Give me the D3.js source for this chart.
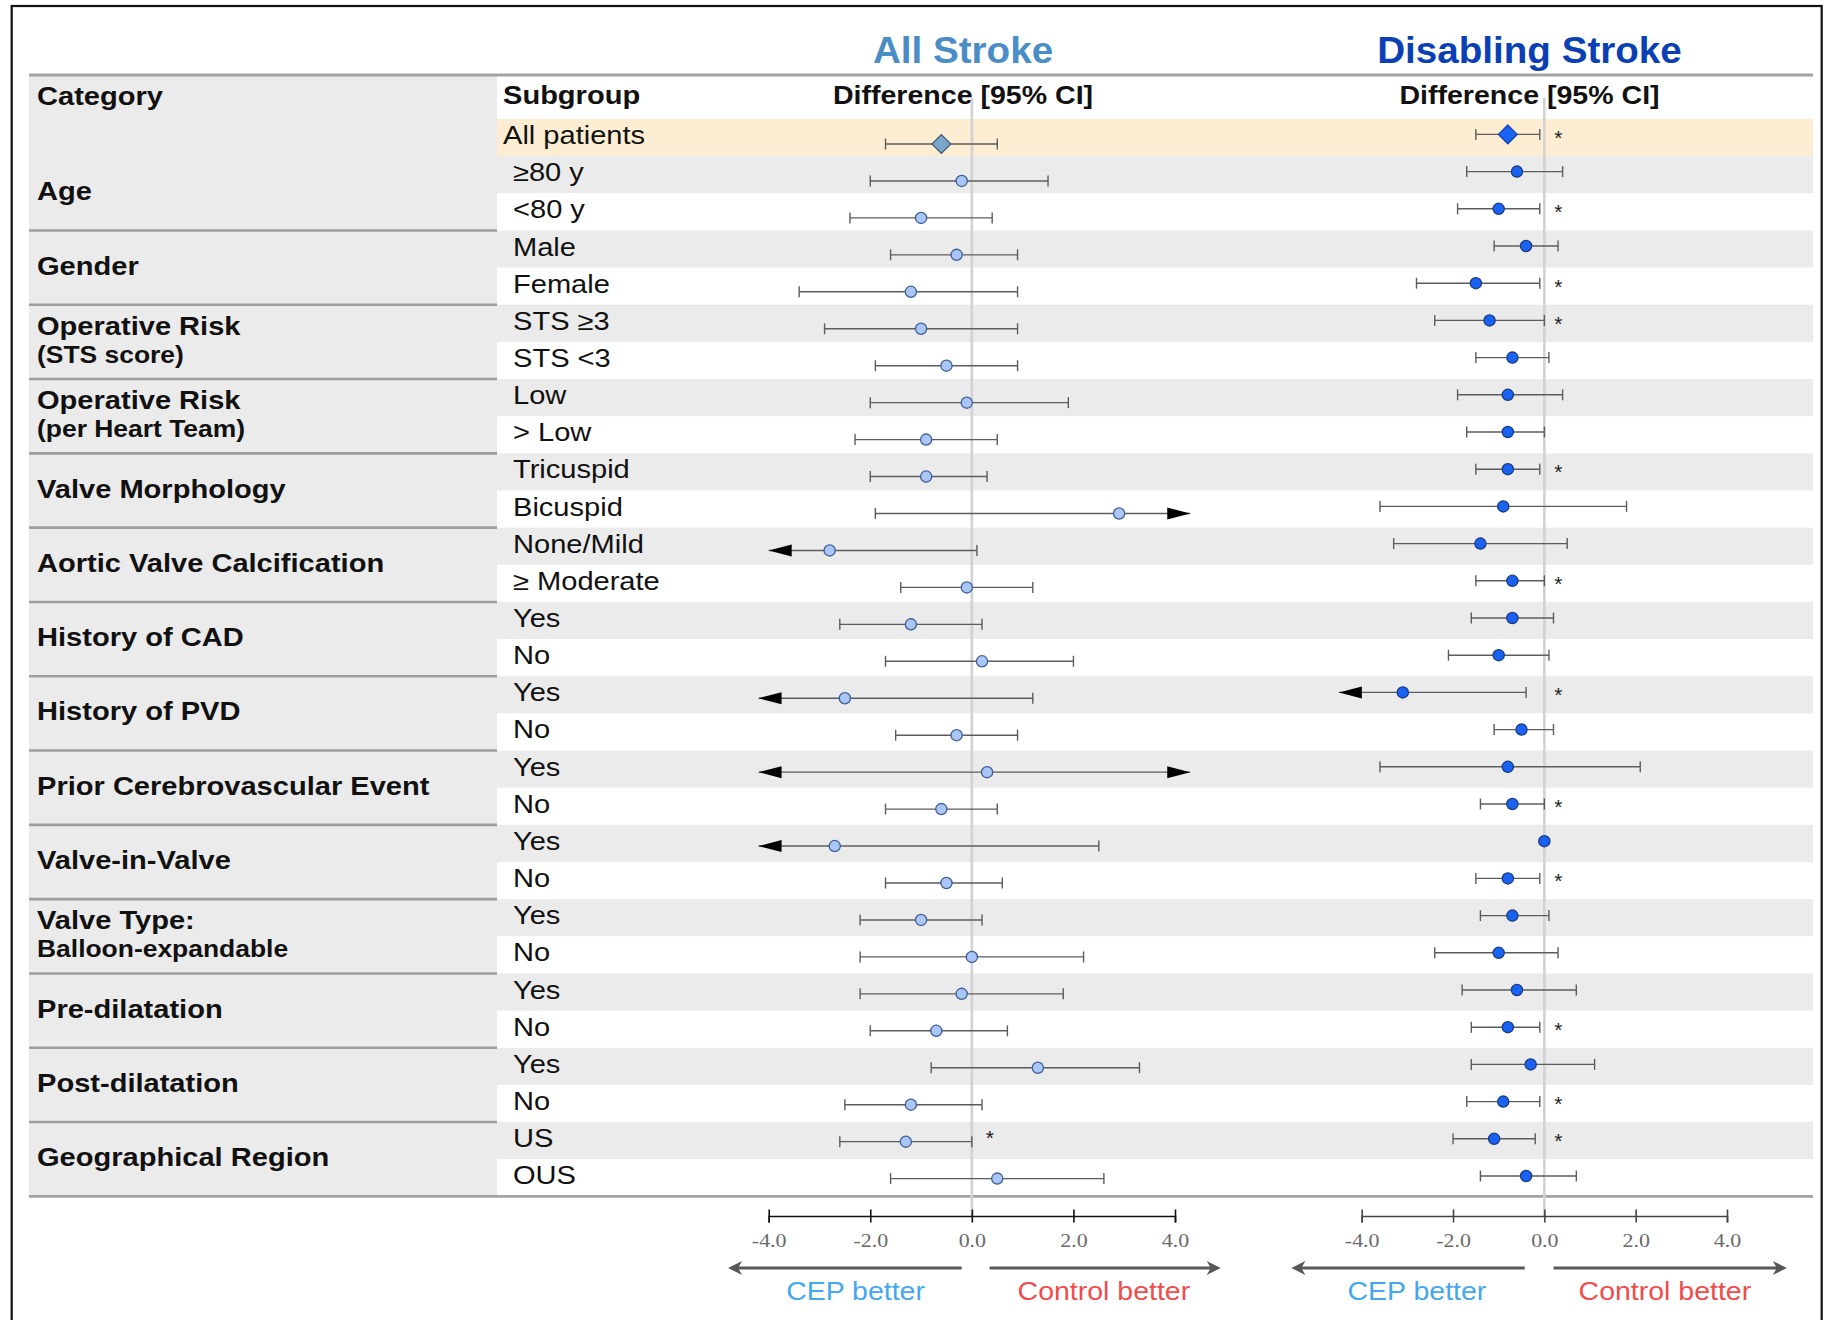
<!DOCTYPE html>
<html>
<head>
<meta charset="utf-8">
<script src="https://cdn.jsdelivr.net/npm/d3@7"></script>
<style>
  body { margin: 0; background: #fff; }
  svg { display: block; }
</style>
</head>
<body>
<svg id="chart" width="1834" height="1320"></svg>
<script>
// ---- Data -------------------------------------------------------------
const subgroups = ["All patients", "≥80 y", "<80 y", "Male", "Female", "STS ≥3", "STS <3",
  "Low", "> Low", "Tricuspid", "Bicuspid", "None/Mild", "≥ Moderate", "Yes", "No", "Yes", "No",
  "Yes", "No", "Yes", "No", "Yes", "No", "Yes", "No", "Yes", "No", "US", "OUS"];

const categoryLabels = [["Age"], ["Gender"], ["Operative Risk", "(STS score)"],
  ["Operative Risk", "(per Heart Team)"], ["Valve Morphology"], ["Aortic Valve Calcification"],
  ["History of CAD"], ["History of PVD"], ["Prior Cerebrovascular Event"], ["Valve-in-Valve"],
  ["Valve Type:", "Balloon-expandable"], ["Pre-dilatation"], ["Post-dilatation"], ["Geographical Region"]];
const categoryFirstRow = [1, 3, 5, 7, 9, 11, 13, 15, 17, 19, 21, 23, 25, 27];
const categoryRowCount = [2, 2, 2, 2, 2, 2, 2, 2, 2, 2, 2, 2, 2, 2];

// All stroke: difference and 95% CI (values past the axis end are drawn as arrows)
const allMean = [-0.6, -0.2, -1.0, -0.3, -1.2, -1.0, -0.5, -0.1, -0.9, -0.9, 2.9, -2.8, -0.1, -1.2, 0.2,
  -2.5, -0.3, 0.3, -0.6, -2.7, -0.5, -1.0, 0.0, -0.2, -0.7, 1.3, -1.2, -1.3, 0.5];
const allLo = [-1.7, -2.0, -2.4, -1.6, -3.4, -2.9, -1.9, -2.0, -2.3, -2.0, -1.9, -4.0, -1.4, -2.6, -1.7,
  -4.2, -1.5, -4.2, -1.7, -4.2, -1.7, -2.2, -2.2, -2.2, -2.0, -0.8, -2.5, -2.6, -1.6];
const allHi = [0.5, 1.5, 0.4, 0.9, 0.9, 0.9, 0.9, 1.9, 0.5, 0.3, 4.3, 0.1, 1.2, 0.2, 2.0,
  1.2, 0.9, 4.3, 0.5, 2.5, 0.6, 0.2, 2.2, 1.8, 0.7, 3.3, 0.2, 0.0, 2.6];
const allSig = [0, 0, 0, 0, 0, 0, 0, 0, 0, 0, 0, 0, 0, 0, 0, 0, 0, 0, 0, 0, 0, 0, 0, 0, 0, 0, 0, 1, 0];

// Disabling stroke: difference and 95% CI
const disMean = [-0.8, -0.6, -1.0, -0.4, -1.5, -1.2, -0.7, -0.8, -0.8, -0.8, -0.9, -1.4, -0.7, -0.7, -1.0,
  -3.1, -0.5, -0.8, -0.7, 0.0, -0.8, -0.7, -1.0, -0.6, -0.8, -0.3, -0.9, -1.1, -0.4];
const disLo = [-1.5, -1.7, -1.9, -1.1, -2.8, -2.4, -1.5, -1.9, -1.7, -1.5, -3.6, -3.3, -1.5, -1.6, -2.1,
  -4.5, -1.1, -3.6, -1.4, null, -1.5, -1.4, -2.4, -1.8, -1.6, -1.6, -1.7, -2.0, -1.4];
const disHi = [-0.1, 0.4, -0.1, 0.3, -0.1, 0.0, 0.1, 0.4, 0.0, -0.1, 1.8, 0.5, 0.0, 0.2, 0.1,
  -0.4, 0.2, 2.1, 0.0, null, -0.1, 0.1, 0.3, 0.7, -0.1, 1.1, -0.1, -0.2, 0.7];
const disSig = [1, 0, 1, 0, 1, 1, 0, 0, 0, 1, 0, 0, 1, 0, 0, 1, 0, 0, 1, 0, 1, 0, 0, 0, 1, 0, 1, 1, 0];

const tickValues = [-4, -2, 0, 2, 4];
const panelTitles = ["All Stroke", "Disabling Stroke"];
const directionLabels = ["CEP better", "Control better"];

// ---- Layout -------------------------------------------------------------
const svg = d3.select("#chart");
const nRows = subgroups.length;
const rowTop = 119, rowH = 37.15;
const tableBottom = rowTop + rowH * nRows;
const catX0 = 29, catX1 = 497, tableX1 = 1813;
const axisY = 1216;
const SX = 1.14; // horizontal stretch of the lettering
const rowCenter = i => rowTop + rowH * (i + 0.5);

const xAll = d3.scaleLinear().domain([-4, 4]).range([768.7, 1175]);
const xDis = d3.scaleLinear().domain([-4, 4]).range([1361.7, 1727]);
const idx = d3.range(nRows);
const yAll = d3.scalePoint().domain(idx).range([144, 1178.6]);
const yDis = d3.scalePoint().domain(idx).range([134.4, 1176]);

function label(g, x, y, str, o = {}) {
  return g.append("text")
    .attr("transform", `translate(${x},${y}) scale(${o.sx ?? SX},1)`)
    .attr("text-anchor", o.anchor || "start")
    .attr("font-family", o.family || "'Liberation Sans', Arial, sans-serif")
    .attr("font-size", o.size || 25.5)
    .attr("font-weight", o.weight || "normal")
    .attr("fill", o.fill || "#111")
    .text(str);
}

// ---- Table background ------------------------------------------------------
const bg = svg.append("g");
bg.append("rect").attr("x", catX0).attr("y", 75).attr("width", catX1 - catX0)
  .attr("height", tableBottom - 75).attr("fill", "#ebebeb");
bg.selectAll("rect.band").data(idx).join("rect")
  .attr("class", "band")
  .attr("x", catX1).attr("y", i => rowTop + rowH * i)
  .attr("width", tableX1 - catX1).attr("height", rowH + 0.3)
  .attr("fill", i => i === 0 ? "#fdeed3" : (i % 2 === 1 ? "#ebebeb" : "#ffffff"));

// group separators in the category column
bg.selectAll("line.sep").data(categoryFirstRow.slice(1)).join("line")
  .attr("class", "sep")
  .attr("x1", catX0).attr("x2", catX1)
  .attr("y1", r => rowTop + rowH * r).attr("y2", r => rowTop + rowH * r)
  .attr("stroke", "#9e9e9e").attr("stroke-width", 2.6);
bg.append("line").attr("x1", catX0).attr("x2", tableX1).attr("y1", 75).attr("y2", 75)
  .attr("stroke", "#a3a3a3").attr("stroke-width", 2.8);
bg.append("line").attr("x1", catX0).attr("x2", tableX1).attr("y1", tableBottom).attr("y2", tableBottom)
  .attr("stroke", "#a3a3a3").attr("stroke-width", 2.6);

// ---- Titles and headers ----------------------------------------------------
const head = svg.append("g");
label(head, 963, 63, panelTitles[0], { size: 37.5, weight: "bold", fill: "#4a8dc6", anchor: "middle", sx: 1.03 });
label(head, 1529.5, 63, panelTitles[1], { size: 37.5, weight: "bold", fill: "#0b3fb4", anchor: "middle", sx: 1.03 });
label(head, 37, 105, "Category", { weight: "bold" });
label(head, 503, 104, "Subgroup", { weight: "bold" });
label(head, 963, 104, "Difference [95% CI]", { weight: "bold", anchor: "middle", sx: 1.12 });
label(head, 1529.5, 104, "Difference [95% CI]", { weight: "bold", anchor: "middle", sx: 1.12 });

// category labels
categoryLabels.forEach((lines, k) => {
  const c = rowTop + rowH * (categoryFirstRow[k] + categoryRowCount[k] / 2);
  if (lines.length === 1) {
    label(head, 37, c + 7, lines[0], { weight: "bold" });
  } else {
    label(head, 37, c - 7, lines[0], { weight: "bold" });
    label(head, 37, c + 21, lines[1], { weight: "bold", size: 23.2 });
  }
});

// subgroup labels
subgroups.forEach((s, i) => {
  label(head, i === 0 ? 503 : 513, rowCenter(i) + 6.5, s);
});

// ---- Forest panels ---------------------------------------------------------
function drawPanel(x, y, mean, lo, hi, sig, st) {
  const g = svg.append("g");
  const [dMin, dMax] = x.domain();
  // reference line at zero
  g.append("line").attr("x1", x(0)).attr("x2", x(0)).attr("y1", 98).attr("y2", axisY)
    .attr("stroke", "#d2d2d2").attr("stroke-width", 2.6);

  idx.forEach(i => {
    const cy = y(i);
    if (lo[i] !== null && hi[i] !== null) {
      g.append("line").attr("x1", x(lo[i])).attr("x2", x(hi[i])).attr("y1", cy).attr("y2", cy)
        .attr("stroke", "#5c5c5c").attr("stroke-width", 1.4);
      [[lo[i], lo[i] <= dMin, -1], [hi[i], hi[i] >= dMax, 1]].forEach(([v, clipped, dir]) => {
        if (clipped) {
          const tx = x(v);
          g.append("path")
            .attr("d", `M${tx},${cy} L${tx - dir * 23},${cy - 6} L${tx - dir * 23},${cy + 6} Z`)
            .attr("fill", "#000");
        } else {
          g.append("line").attr("x1", x(v)).attr("x2", x(v)).attr("y1", cy - 5.5).attr("y2", cy + 5.5)
            .attr("stroke", "#5c5c5c").attr("stroke-width", 1.4);
        }
      });
    }
    if (i === 0) {
      const px = x(mean[i]), r = 9.4;
      g.append("path")
        .attr("d", `M${px},${cy - r} L${px + r},${cy} L${px},${cy + r} L${px - r},${cy} Z`)
        .attr("fill", st.diamondFill).attr("stroke", st.diamondStroke).attr("stroke-width", 1.3);
    } else {
      g.append("circle").attr("cx", x(mean[i])).attr("cy", cy).attr("r", 5.6)
        .attr("fill", st.fill).attr("stroke", st.stroke).attr("stroke-width", 1.3);
    }
    if (sig[i]) {
      g.append("text").attr("x", x(0) + st.starDx).attr("y", rowCenter(i) + st.starDy)
        .attr("text-anchor", "middle").attr("font-family", "'Liberation Sans', Arial, sans-serif")
        .attr("font-size", 21).attr("fill", "#222").text("*");
    }
  });

  // axis
  const axis = d3.axisBottom(x).tickValues(tickValues).tickSizeOuter(0).tickSize(6.5)
    .tickFormat(d => d.toFixed(1));
  const ag = svg.append("g").attr("transform", `translate(0,${axisY})`).call(axis);
  ag.select(".domain").attr("stroke", st.axisColor).attr("stroke-width", 1.6);
  ag.selectAll(".tick line").attr("y1", -6.5).attr("y2", 6.5)
    .attr("stroke", st.axisColor).attr("stroke-width", 1.6);
  ag.selectAll(".tick text").attr("y", 31).attr("dy", 0)
    .attr("transform", "scale(1.22,1)")
    .attr("font-family", "'Liberation Serif', 'Times New Roman', serif")
    .attr("font-size", 18).attr("fill", "#6a6a6a");

  // direction arrows under the axis
  const ay = 1268;
  st.arrows.forEach(([from, to], k) => {
    const x1 = x(from), x2 = x(to), dir = Math.sign(x2 - x1);
    g.append("line").attr("x1", x1).attr("x2", x2 - dir * 6).attr("y1", ay).attr("y2", ay)
      .attr("stroke", "#585858").attr("stroke-width", 2.8);
    g.append("path")
      .attr("d", `M${x2},${ay} L${x2 - dir * 14},${ay - 7} L${x2 - dir * 10},${ay} L${x2 - dir * 14},${ay + 7} Z`)
      .attr("fill", "#585858");
    label(g, x(st.labelAt[k]), 1300, directionLabels[k],
      { anchor: "middle", size: 25, fill: k === 0 ? "#45a7ef" : "#f24b4b" });
  });
}

drawPanel(xAll, yAll, allMean, allLo, allHi, allSig, {
  fill: "#a9c6f6", stroke: "#3f5e96", diamondFill: "#7ba7c8", diamondStroke: "#3f5a74",
  starDx: 18, starDy: 4, axisColor: "#111",
  arrows: [[-0.2, -4.8], [0.35, 4.9]], labelAt: [-2.29, 2.6]
});
drawPanel(xDis, yDis, disMean, disLo, disHi, disSig, {
  fill: "#1a62f2", stroke: "#1b3b82", diamondFill: "#1a62f2", diamondStroke: "#1946a8",
  starDx: 14, starDy: 7.5, axisColor: "#444",
  arrows: [[-0.43, -5.54], [0.2, 5.31]], labelAt: [-2.79, 2.64]
});

// outer frame
svg.append("rect").attr("x", 11.7).attr("y", 6).attr("width", 1810).attr("height", 1330)
  .attr("fill", "none").attr("stroke", "#111").attr("stroke-width", 2.2);
</script>
</body>
</html>
